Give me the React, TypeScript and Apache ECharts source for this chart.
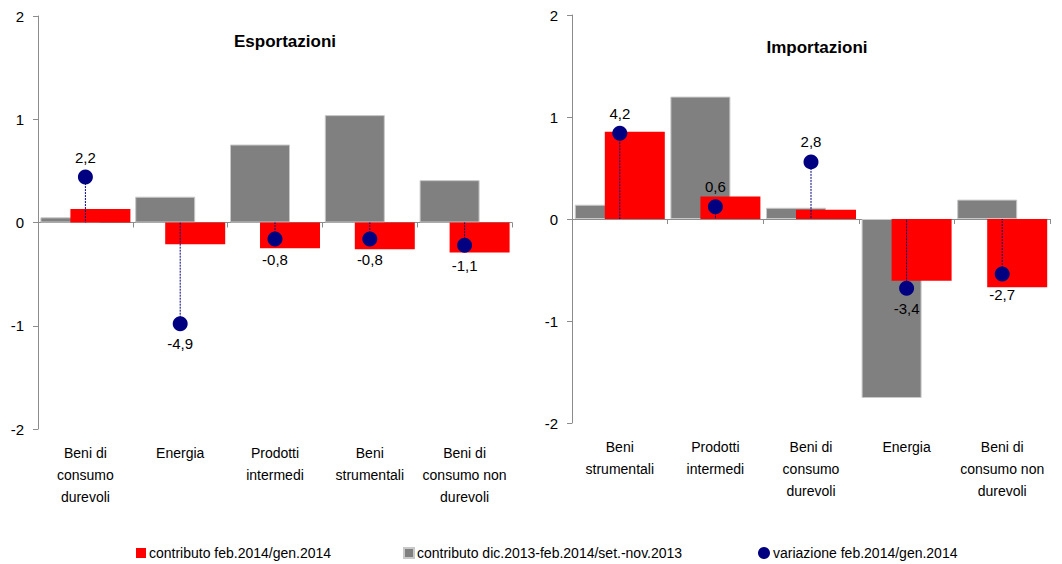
import React, { useEffect, useRef } from "react";
import * as echarts from "echarts";

const FONT = "'Liberation Sans Narrow', 'Arial Narrow', 'Liberation Sans', Arial, sans-serif";

// Esportazioni
const expCategories = [
  "Beni di\nconsumo\ndurevoli",
  "Energia",
  "Prodotti\nintermedi",
  "Beni\nstrumentali",
  "Beni di\nconsumo non\ndurevoli",
];
const expGray = [0.05, 0.25, 0.755, 1.04, 0.41];
const expRed = [0.13, -0.21, -0.25, -0.26, -0.29];
const expVar = [2.2, -4.9, -0.8, -0.8, -1.1];

// Importazioni
const impCategories = [
  "Beni\nstrumentali",
  "Prodotti\nintermedi",
  "Beni di\nconsumo\ndurevoli",
  "Energia",
  "Beni di\nconsumo non\ndurevoli",
];
const impGray = [0.14, 1.2, 0.11, -1.755, 0.19];
const impRed = [0.855, 0.22, 0.09, -0.605, -0.67];
const impVar = [4.2, 0.6, 2.8, -3.4, -2.7];

const yTicks = [-2, -1, 0, 1, 2];

const NAME_RED = "contributo feb.2014/gen.2014";
const NAME_GRAY = "contributo dic.2013-feb.2014/set.-nov.2013";
const NAME_DOT = "variazione feb.2014/gen.2014";

const RED = "#ff0000";
const GRAY = "#808080";
const NAVY = "#000080";
const AXIS = "#8c8c8c";

function fmt(v: number) {
  return v.toFixed(1).replace(".", ",");
}

export default function App() {
  const ref = useRef<HTMLDivElement>(null);
  useEffect(() => {
    if (!ref.current) return;
    const chart = echarts.init(ref.current, undefined, { renderer: "svg" });

    const panels = [
      { cats: expCategories, gray: expGray, red: expRed, vr: expVar },
      { cats: impCategories, gray: impGray, red: impRed, vr: impVar },
    ];

    const xAxis: any[] = [];
    const yAxis: any[] = [];
    const series: any[] = [];

    panels.forEach((p, gi) => {
      // line axis at zero
      xAxis.push({
        type: "category",
        gridIndex: gi,
        data: p.cats,
        position: "bottom",
        axisLine: { show: true, onZero: true, lineStyle: { color: AXIS, width: 1 } },
        axisTick: { show: true, length: 5, lineStyle: { color: AXIS } },
        axisLabel: { show: false },
        splitLine: { show: false },
      });
      // label axis at bottom
      xAxis.push({
        type: "category",
        gridIndex: gi,
        data: p.cats,
        position: "bottom",
        axisLine: { show: false, onZero: false },
        axisTick: { show: false },
        axisLabel: {
          show: true,
          interval: 0,
          margin: 13,
          color: "#000",
          fontFamily: FONT,
          fontSize: 14,
          lineHeight: 22,
          align: "center",
        },
        splitLine: { show: false },
      });
      yAxis.push({
        type: "value",
        gridIndex: gi,
        min: yTicks[0],
        max: yTicks[yTicks.length - 1],
        interval: 1,
        axisLine: { show: true, lineStyle: { color: AXIS, width: 1 } },
        axisTick: { show: true, length: 5, lineStyle: { color: AXIS } },
        axisLabel: { color: "#000", fontFamily: FONT, fontSize: 15, margin: 14 },
        splitLine: { show: false },
      });
      yAxis.push({
        type: "value",
        gridIndex: gi,
        min: -10,
        max: 10,
        show: false,
        splitLine: { show: false },
      });

      const xi = gi * 2;
      const yi = gi * 2;
      series.push({
        name: NAME_GRAY,
        type: "bar",
        xAxisIndex: xi,
        yAxisIndex: yi,
        data: p.gray,
        barWidth: 60,
        barGap: "-50%",
        itemStyle: { color: GRAY, borderColor: "#c8c8c8", borderWidth: 1 },
      });
      series.push({
        name: NAME_RED,
        type: "bar",
        xAxisIndex: xi,
        yAxisIndex: yi,
        data: p.red,
        barWidth: 60,
        barGap: "-50%",
        itemStyle: { color: RED },
      });
      series.push({
        name: "drop" + gi,
        type: "custom",
        xAxisIndex: xi,
        yAxisIndex: yi + 1,
        data: p.vr.map((v, i) => [i, v]),
        renderItem: (params: any, api: any) => {
          const x = api.value(0);
          const v = api.value(1);
          const p1 = api.coord([x, v]);
          const p0 = api.coord([x, 0]);
          return {
            type: "line",
            shape: { x1: p1[0], y1: p1[1], x2: p0[0], y2: p0[1] },
            style: { stroke: NAVY, lineWidth: 1, lineDash: [2, 1] },
          };
        },
        silent: true,
        z: 3,
      });
      series.push({
        name: NAME_DOT,
        type: "scatter",
        xAxisIndex: xi,
        yAxisIndex: yi + 1,
        data: p.vr.map((v) => ({
          value: v,
          label: { position: v >= 0 ? "top" : "bottom" },
        })),
        symbol: "circle",
        symbolSize: 15,
        itemStyle: { color: NAVY, opacity: 1 },
        label: {
          show: true,
          distance: 5,
          color: "#000",
          fontFamily: FONT,
          fontSize: 15,
          formatter: (pp: any) => fmt(pp.value),
        },
        z: 4,
      });
    });

    const legendBase = {
      top: 541,
      itemWidth: 10,
      itemHeight: 10,
      itemGap: 4,
      selectedMode: false,
      textStyle: { color: "#000", fontFamily: FONT, fontSize: 14, padding: [0, 0, 0, -2] },
    };

    chart.setOption({
      animation: false,
      backgroundColor: "#fff",
      title: [
        {
          text: "Esportazioni",
          left: 280,
          top: 28,
          textAlign: "center",
          textStyle: { fontFamily: FONT, fontSize: 17, fontWeight: "bold", color: "#000" },
        },
        {
          text: "Importazioni",
          left: 812,
          top: 34,
          textAlign: "center",
          textStyle: { fontFamily: FONT, fontSize: 17, fontWeight: "bold", color: "#000" },
        },
      ],
      legend: [
        { ...legendBase, left: 131, data: [{ name: NAME_RED, icon: "rect" }] },
        { ...legendBase, left: 398, data: [{ name: NAME_GRAY, icon: "rect" }] },
        {
          ...legendBase,
          left: 753,
          itemWidth: 12,
          itemHeight: 13,
          data: [{ name: NAME_DOT, icon: "circle" }],
        },
      ],
      grid: [
        { left: 38, top: 16, width: 474, height: 413 },
        { left: 572, top: 15, width: 478, height: 408 },
      ],
      xAxis,
      yAxis,
      series,
    });

    return () => chart.dispose();
  }, []);

  return (
    <div
      ref={ref}
      style={{ position: "fixed", left: 0, top: 0, width: 1062, height: 564, background: "#fff" }}
    />
  );
}
